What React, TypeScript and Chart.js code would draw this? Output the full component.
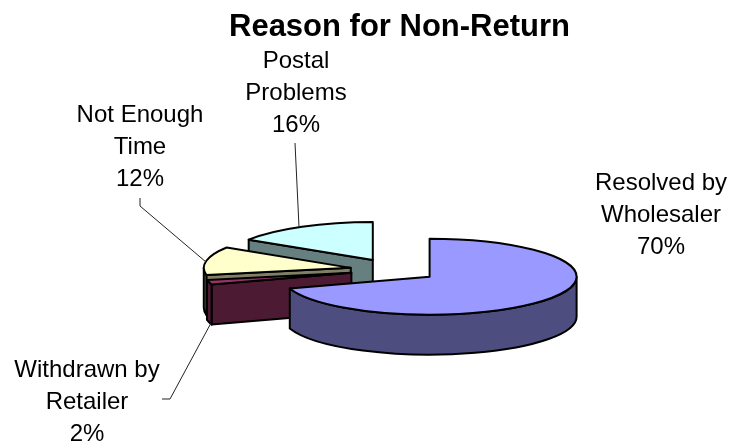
import React, { useEffect, useRef } from "react";
import { Chart, registerables } from "chart.js";

Chart.register(...registerables);

const categories = ["Resolved by Wholesaler", "Withdrawn by Retailer", "Not Enough Time", "Postal Problems"];
const values = [70, 2, 12, 16];
const labelLines = [
  ["Resolved by", "Wholesaler"],
  ["Withdrawn by", "Retailer"],
  ["Not Enough", "Time"],
  ["Postal", "Problems"],
];
const topColors = ["#9999FF", "#993366", "#FFFFCC", "#CCFFFF"];
const sideColors = ["#4D4D80", "#4D1A33", "#808066", "#668080"];
const titleText = "Reason for Non-Return";

// Layout of the annotation text (not data)
const labelCenters: [number, number][] = [[661, 183], [87, 370], [140, 115], [296, 61]];
const leaders: [number, number][][] = [
  [],
  [[162, 399], [170, 399], [211, 323]],
  [[140, 198], [140, 206], [206, 262]],
  [[295, 143], [299, 227]],
];
const SQUASH = 0.2585;
const DEPTH = 40;
const EXPLODE = 44;
const LINE_H = 32;
const paintOrder = [3, 2, 1, 0];

const pie3d = {
  id: "pie3d",
  afterLayout(chart: any) {
    if (chart.titleBlock) {
      chart.titleBlock.left = 100;
      chart.titleBlock.right = 699;
    }
  },
  beforeDatasetDraw(chart: any) {
    const ctx: CanvasRenderingContext2D = chart.ctx;
    const arcs = chart.getDatasetMeta(0).data;
    ctx.save();
    ctx.lineWidth = 2;
    ctx.lineJoin = "round";
    ctx.strokeStyle = "#000";
    for (const i of paintOrder) {
      const a = arcs[i];
      const s: number = a.startAngle;
      const e: number = a.endAngle;
      const r: number = a.outerRadius;
      const mid = (s + e) / 2;
      const cx = a.x + Math.cos(mid) * EXPLODE;
      const cy = a.y + Math.sin(mid) * EXPLODE * SQUASH;
      const px = (t: number) => cx + Math.cos(t) * r;
      const py = (t: number) => cy + Math.sin(t) * r * SQUASH;
      ctx.fillStyle = sideColors[i];
      const wall = (t: number) => {
        ctx.beginPath();
        ctx.moveTo(cx, cy);
        ctx.lineTo(px(t), py(t));
        ctx.lineTo(px(t), py(t) + DEPTH);
        ctx.lineTo(cx, cy + DEPTH);
        ctx.closePath();
        ctx.fill();
        ctx.stroke();
      };
      if (-Math.cos(s) > 1e-6) wall(s);
      if (Math.cos(e) > 1e-6) wall(e);
      const v0 = Math.max(s, 0);
      const v1 = Math.min(e, Math.PI);
      if (v1 > v0) {
        ctx.beginPath();
        ctx.ellipse(cx, cy, r, r * SQUASH, 0, v0, v1);
        ctx.lineTo(px(v1), py(v1) + DEPTH);
        ctx.ellipse(cx, cy + DEPTH, r, r * SQUASH, 0, v1, v0, true);
        ctx.closePath();
        ctx.fill();
        ctx.stroke();
      }
      ctx.fillStyle = topColors[i];
      ctx.beginPath();
      ctx.moveTo(cx, cy);
      ctx.ellipse(cx, cy, r, r * SQUASH, 0, s, e);
      ctx.closePath();
      ctx.fill();
      ctx.stroke();
    }
    ctx.restore();
    return false;
  },
  afterDraw(chart: any) {
    const ctx: CanvasRenderingContext2D = chart.ctx;
    const total = values.reduce((p, c) => p + c, 0);
    ctx.save();
    ctx.strokeStyle = "#222";
    ctx.lineWidth = 1;
    leaders.forEach((pts) => {
      if (!pts.length) return;
      ctx.beginPath();
      pts.forEach(([x, y], k) => (k ? ctx.lineTo(x, y) : ctx.moveTo(x, y)));
      ctx.stroke();
    });
    ctx.fillStyle = "#000";
    ctx.font = '24px "Liberation Sans"';
    ctx.textAlign = "center";
    ctx.textBaseline = "middle";
    categories.forEach((_, i) => {
      const [x, y] = labelCenters[i];
      const lines = [...labelLines[i], Math.round((values[i] / total) * 100) + "%"];
      lines.forEach((t, k) => ctx.fillText(t, x, y + k * LINE_H));
    });
    ctx.restore();
  },
};

export default function App() {
  const ref = useRef<HTMLCanvasElement>(null);
  useEffect(() => {
    const chart = new Chart(ref.current!, {
      type: "pie",
      data: {
        labels: categories,
        datasets: [{ data: values, backgroundColor: topColors, borderWidth: 0 }],
      },
      options: {
        responsive: false,
        animation: false,
        layout: { padding: { left: 247, right: 197, top: 0, bottom: 27 } },
        plugins: {
          legend: { display: false },
          tooltip: { enabled: false },
          title: {
            display: true,
            text: titleText,
            color: "#000",
            font: { family: '"Liberation Sans"', size: 31, weight: "bold", lineHeight: 1.2 },
            padding: { top: 9, bottom: 76.8 },
          },
        },
      },
      plugins: [pie3d as any],
    });
    return () => chart.destroy();
  }, []);
  return (
    <div style={{ position: "absolute", left: 0, top: 0, width: 738, height: 444, background: "#fff" }}>
      <canvas ref={ref} width={738} height={444} style={{ display: "block" }} />
    </div>
  );
}
